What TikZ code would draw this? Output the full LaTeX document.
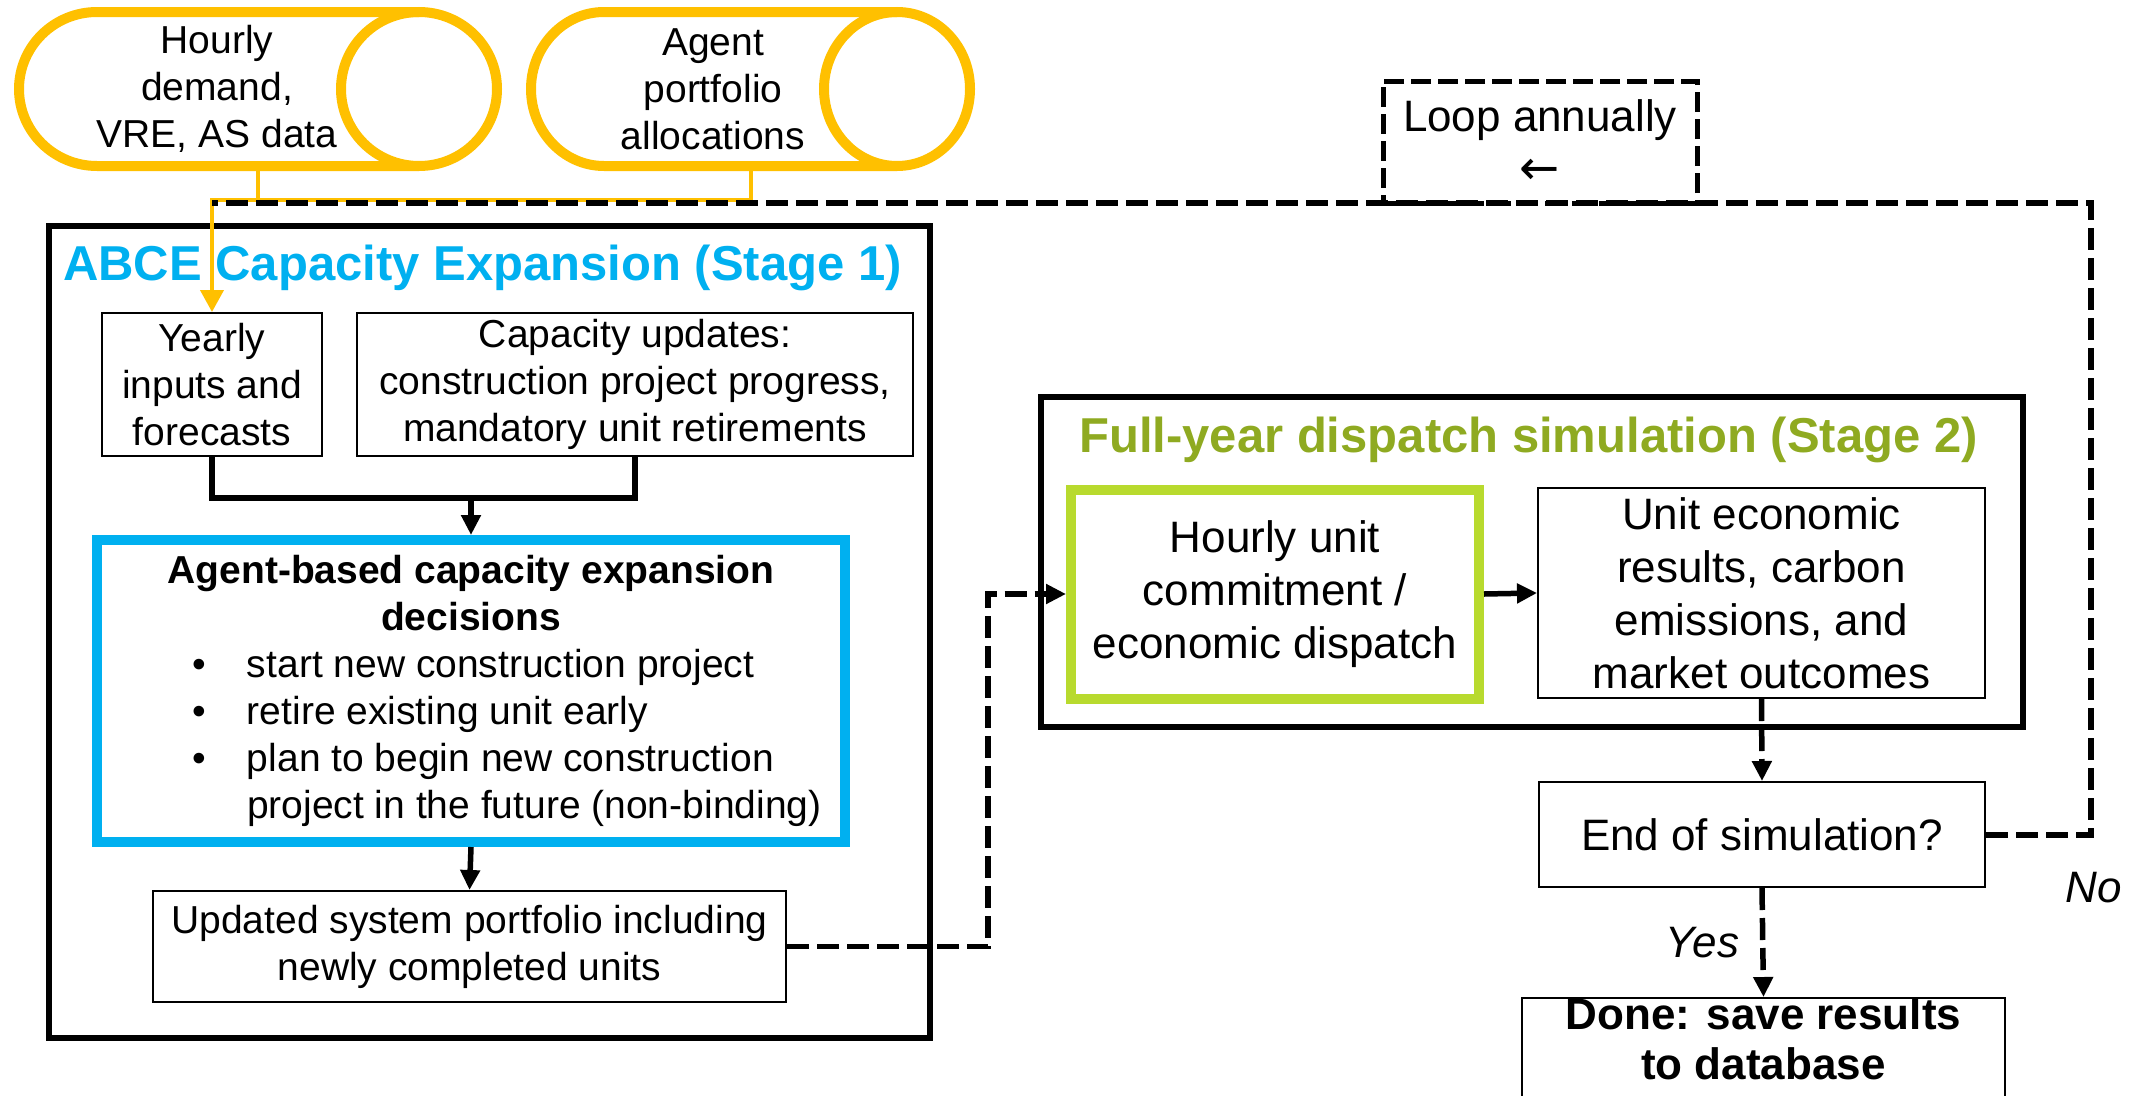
\documentclass[tikz,border=0pt]{standalone}
\usepackage{fontspec}
\setmainfont{Liberation Sans}
\newfontfamily\arrowfont{DejaVu Sans}
\usetikzlibrary{arrows.meta,positioning}

\definecolor{abceyellow}{HTML}{FFC000}
\definecolor{abceblue}{HTML}{00B0F0}
\definecolor{dispgreen}{RGB}{184,218,46}
\definecolor{dispolive}{RGB}{143,170,33}

\newcommand\bodyfont{\fontsize{39}{47}\selectfont}
\newcommand\bigfont{\fontsize{44}{53}\selectfont}
\newcommand\headfont{\fontsize{49}{58}\selectfont\bfseries}
\newcommand\decisionitem[1]{\makebox[748pt][l]{\hspace*{95pt}\makebox[55pt][l]{\textbullet}#1}}
\newcommand\decisioncont[1]{\makebox[748pt][l]{\hspace*{150pt}#1}}

\tikzset{
  box/.style={draw, line width=2pt, align=center, inner sep=0pt, font=\bodyfont},
  bigbox/.style={box, font=\bigfont},
  frame/.style={draw, line width=6pt, inner sep=0pt},
  store/.style={draw=abceyellow, line width=10pt},
  storetext/.style={align=center, inner sep=0pt, font=\bodyfont},
  wire/.style={line width=5.5pt},
  link/.style={wire, -{Triangle[length=20pt,width=19pt]}},
  flow/.style={link, dash pattern=on 22pt off 8pt},
  loopline/.style={line width=6pt, dash pattern=on 22pt off 8pt},
  feed/.style={color=abceyellow, line width=4pt},
  lbl/.style={font=\bigfont\itshape, inner sep=2pt},
}

\begin{document}
\begin{tikzpicture}[x=1pt,y=-1pt]
  \useasboundingbox (0,0) rectangle (2136,1095);
  % rows and columns for the connectors
  \coordinate (bus) at (0,200);
  \coordinate (ret) at (2091,203);
  \coordinate (jn) at (0,498);
  \coordinate (detour) at (988,0);
  %
  % data stores
  \draw[store] (419,12) -- (97,12) arc[start angle=270, end angle=90, x radius=78, y radius=77] -- (419,166);
  \draw[store] (419,89) ellipse[x radius=78, y radius=77];
  \draw[store] (897,12) -- (604,12) arc[start angle=270, end angle=90, x radius=73, y radius=77] -- (897,166);
  \draw[store] (897,89) ellipse[x radius=73, y radius=77];
  \node[storetext] (demand) at (217,89) {Hourly\\demand,\\VRE, AS data};
  \node[storetext] (alloc) at (713,89) {Agent\\portfolio\\allocations};
  \coordinate (demandfoot) at (258,171);
  \coordinate (allocfoot) at (750.5,171);
  %
  \node[frame, minimum width=881pt, minimum height=812pt] (stageone) at (489.5,632) {};
  \node[font=\headfont, text=abceblue, anchor=base west, inner sep=0pt] (titleone) at (63,280)
    {ABCE Capacity Expansion (Stage 1)};
  \node[box, minimum width=220pt, minimum height=143pt] (yearly) at (212,384.5)
    {Yearly\\inputs and\\forecasts};
  \node[box, minimum width=556pt, minimum height=143pt] (capupd) at (635,384.5)
    {Capacity updates:\\construction project progress,\\mandatory unit retirements};
  \node[box, draw=abceblue, line width=10pt, minimum width=748pt, minimum height=302pt] (agent) at (471,691)
    {\textbf{Agent-based capacity expansion}\\\textbf{decisions}\\
     \decisionitem{start new construction project}\\
     \decisionitem{retire existing unit early}\\
     \decisionitem{plan to begin new construction}\\
     \decisioncont{project in the future (non-binding)}};
  \node[box, minimum width=633pt, minimum height=111pt] (updated) at (469.5,946.5)
    {Updated system portfolio including\\newly completed units};
  %
  \node[frame, minimum width=982pt, minimum height=330pt] (stagetwo) at (1532,562) {};
  \node[font=\headfont, text=dispolive, anchor=base west, inner sep=0pt] (titletwo) at (1079,452)
    {Full-year dispatch simulation (Stage 2)};
  \node[bigbox, draw=dispgreen, line width=10pt, minimum width=408pt, minimum height=209pt] (dispatch) at (1275,594)
    {Hourly unit\\commitment /\\economic dispatch};
  \node[bigbox, minimum width=447pt, minimum height=210pt] (results) at (1761.5,593)
    {Unit economic\\results, carbon\\emissions, and\\market outcomes};
  \node[bigbox, minimum width=446pt, minimum height=105pt] (endsim) at (1762,834.5)
    {End of simulation?};
  \node[box, font={\fontsize{44}{50}\selectfont\bfseries}, minimum width=483pt, minimum height=120pt,
    anchor=north, text depth=45pt] (done) at (1763.5,997) {Done: save results\\to database};
  \node[draw, line width=5pt, dash pattern=on 20pt off 7pt, minimum width=314pt, minimum height=122pt,
    align=center, font=\bigfont] (loop) at (1540,142) {Loop annually\\{\arrowfont\fontsize{48}{48}\selectfont ←}};
  %
  \draw[feed] (demandfoot) -- (demandfoot |- bus);
  \draw[feed, -{Triangle[length=22pt,width=23pt]}] (allocfoot) |- (yearly.north |- bus) -- (yearly.north);
  \draw[loopline] (endsim.east) -| (ret) -- (yearly.north |- ret);
  %
  \draw[wire] (yearly.south) -- (yearly.south |- jn) -- (capupd.south |- jn) -- (capupd.south);
  \draw[link] (agent.north |- jn) -- (agent.north);
  \draw[link] (agent.south) -- (updated.north);
  \draw[flow] (updated.east) -| (detour |- dispatch.west) -- (dispatch.west);
  \draw[link] (dispatch.east) -- (results.west);
  \draw[flow] (results.south) -- (endsim.north);
  \draw[flow] (endsim.south) -- node[lbl, left=19pt] (yes) {Yes} (done.north);
  \node[lbl] (no) at (2094,888) {No};
\end{tikzpicture}
\end{document}
